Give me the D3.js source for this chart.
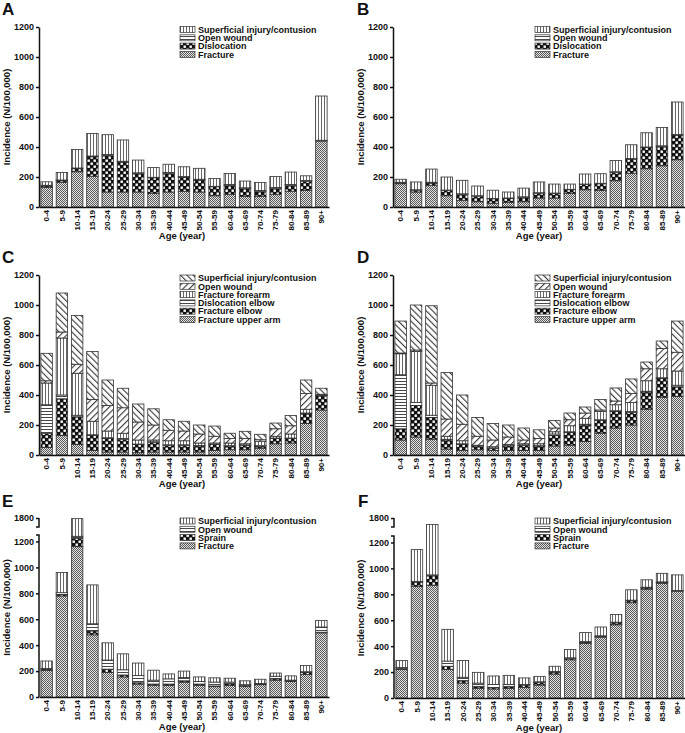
<!DOCTYPE html>
<html>
<head>
<meta charset="utf-8">
<script src="https://cdn.jsdelivr.net/npm/d3@7"></script>
<style>
  body { margin: 0; background: #fff; }
  text { font-family: "Liberation Sans", Arial, sans-serif; font-weight: bold; fill: #111; }
</style>
</head>
<body>
<div id="chart"></div>
<script>
// age groups on the x axis
var ages = ["0-4","5-9","10-14","15-19","20-24","25-29","30-34","35-39","40-44","45-49",
            "50-54","55-59","60-64","65-69","70-74","75-79","80-84","85-89","90+"];

// panel A
var fractureA    = [130,165,235,205,100,100,100,90,100,105,100,75,85,70,70,85,105,110,440];
var dislocationA = [10,10,20,130,245,200,125,105,125,93,80,60,60,55,35,40,40,62,3];
var openWoundA   = [5,5,5,5,5,5,3,3,5,5,5,3,5,3,5,5,5,5,2];
var superficialA = [23,50,123,150,132,142,85,65,55,65,73,52,73,45,53,73,83,31,295];

// panel B
var fractureB    = [155,100,145,75,45,35,25,30,35,60,60,90,115,110,175,225,255,275,315];
var dislocationB = [7,12,15,35,40,37,30,28,30,32,30,25,35,45,57,95,143,130,165];
var openWoundB   = [3,3,5,3,3,3,2,2,3,3,3,3,3,3,3,3,2,3,3];
var superficialB = [20,52,88,87,90,65,55,40,58,72,60,35,67,64,75,92,95,122,217];

// panel C
var upperArmC    = [50,130,70,30,20,20,15,20,20,20,20,30,35,35,45,75,80,210,300];
var elbowC       = [95,245,185,100,90,85,55,65,45,45,40,40,25,30,15,35,30,65,95];
var dislElbowC   = [190,25,10,5,5,5,3,3,3,3,3,2,2,2,2,3,3,5,3];
var forearmC     = [145,380,280,90,45,35,27,12,27,27,17,8,18,8,30,12,27,25,2];
var openWoundC   = [15,40,60,145,170,170,120,100,70,65,60,45,30,35,10,50,55,105,5];
var superficialC = [183,260,325,320,170,130,120,108,70,65,60,68,35,48,36,38,68,90,40];

// panel D
var upperArmD    = [100,120,105,40,30,35,30,30,30,30,60,65,90,145,180,200,305,385,390];
var elbowD       = [75,210,145,60,40,25,15,30,35,30,70,85,110,85,110,85,115,125,65];
var dislElbowD   = [360,20,15,5,5,2,2,2,2,2,10,5,5,5,5,5,5,5,10];
var forearmD     = [140,340,200,20,20,3,8,8,8,13,15,40,40,55,40,60,70,60,95];
var openWoundD   = [5,10,15,115,110,60,45,50,25,35,25,40,35,10,25,60,80,135,125];
var superficialD = [213,300,515,310,195,125,110,80,80,58,50,45,40,70,87,97,45,50,208];

// panel E
var fractureE    = [205,780,1160,480,190,155,100,90,90,115,90,80,90,80,95,130,120,175,495];
var sprainE      = [10,10,65,30,25,15,10,10,10,10,10,5,15,10,5,10,5,15,5];
var openWoundE   = [5,15,15,55,70,40,55,30,40,25,20,30,10,5,5,20,5,5,40];
var superficialE = [58,155,555,300,133,123,97,77,38,50,35,33,30,30,32,25,33,48,50];

// panel F
var fractureF    = [220,860,870,220,115,75,70,75,80,100,185,295,420,470,565,735,840,885,825];
var sprainF      = [10,35,75,25,20,15,10,15,20,20,15,10,10,5,15,15,10,8,2];
var openWoundF   = [5,5,5,40,25,25,25,15,5,5,5,5,5,5,5,5,5,3,3];
var superficialF = [55,245,800,245,130,83,65,70,50,42,40,65,70,68,60,80,57,66,120];

var ticksNormal = [0,200,400,600,800,1000,1200];
var ticksBroken = [0,200,400,600,800,1000,1200,1800];

var svg = d3.select("#chart").append("svg")
    .attr("width", 685)
    .attr("height", 733);

// fill patterns
var defs = svg.append("defs");
var p = defs.append("pattern").attr("id","fine").attr("patternUnits","userSpaceOnUse")
    .attr("width",2).attr("height",2);
p.append("rect").attr("width",2).attr("height",2).attr("fill","#e4e4e4");
p.append("rect").attr("width",1).attr("height",1).attr("fill","#5a5a5a");
p.append("rect").attr("x",1).attr("y",1).attr("width",1).attr("height",1).attr("fill","#5a5a5a");

p = defs.append("pattern").attr("id","check").attr("patternUnits","userSpaceOnUse")
    .attr("width",6).attr("height",6);
p.append("rect").attr("width",6).attr("height",6).attr("fill","#111");
p.append("rect").attr("x",0.5).attr("y",0.5).attr("width",2.4).attr("height",2.4).attr("fill","#fff");
p.append("rect").attr("x",3.5).attr("y",3.5).attr("width",2.4).attr("height",2.4).attr("fill","#fff");

p = defs.append("pattern").attr("id","horiz").attr("patternUnits","userSpaceOnUse")
    .attr("width",4).attr("height",3);
p.append("rect").attr("width",4).attr("height",3).attr("fill","#fff");
p.append("line").attr("x1",0).attr("x2",4).attr("y1",0.5).attr("y2",0.5)
    .attr("stroke","#333").attr("stroke-width",0.9);

p = defs.append("pattern").attr("id","vert").attr("patternUnits","userSpaceOnUse")
    .attr("width",3).attr("height",4);
p.append("rect").attr("width",3).attr("height",4).attr("fill","#fff");
p.append("line").attr("x1",0.5).attr("x2",0.5).attr("y1",0).attr("y2",4)
    .attr("stroke","#555").attr("stroke-width",0.9);

[["diagB",-45],["diagF",45]].forEach(function(d) {
    var q = defs.append("pattern").attr("id",d[0]).attr("patternUnits","userSpaceOnUse")
        .attr("width",4.5).attr("height",4.5)
        .attr("patternTransform","rotate(" + d[1] + ")");
    q.append("rect").attr("width",4.5).attr("height",4.5).attr("fill","#fff");
    q.append("line").attr("x1",0.6).attr("x2",0.6).attr("y1",0).attr("y2",4.5)
        .attr("stroke","#222").attr("stroke-width",1);
});

// panels: series listed bottom to top
var panels = [
  {letter:"A", lx:2, ly:15, left:39, right:329, y0:207, yTop:27, broken:false,
   legX:180, legY:29.5, titleX:182, titleY:239, yTitleX:10,
   series:[["Fracture",fractureA,"fine"],["Dislocation",dislocationA,"check"],
           ["Open wound",openWoundA,"horiz"],["Superficial injury/contusion",superficialA,"vert"]]},
  {letter:"B", lx:357, ly:15, left:393, right:685, y0:207, yTop:27, broken:false,
   legX:535, legY:29.5, titleX:539, titleY:239, yTitleX:364,
   series:[["Fracture",fractureB,"fine"],["Dislocation",dislocationB,"check"],
           ["Open wound",openWoundB,"horiz"],["Superficial injury/contusion",superficialB,"vert"]]},
  {letter:"C", lx:2, ly:263, left:39, right:329, y0:455, yTop:275, broken:false,
   legX:180, legY:278, titleX:182, titleY:487, yTitleX:10,
   series:[["Fracture upper arm",upperArmC,"fine"],["Fracture elbow",elbowC,"check"],
           ["Dislocation elbow",dislElbowC,"horiz"],["Fracture forearm",forearmC,"vert"],
           ["Open wound",openWoundC,"diagF"],["Superficial injury/contusion",superficialC,"diagB"]]},
  {letter:"D", lx:357, ly:263, left:393, right:685, y0:455, yTop:275, broken:false,
   legX:535, legY:278, titleX:539, titleY:487, yTitleX:364,
   series:[["Fracture upper arm",upperArmD,"fine"],["Fracture elbow",elbowD,"check"],
           ["Dislocation elbow",dislElbowD,"horiz"],["Fracture forearm",forearmD,"vert"],
           ["Open wound",openWoundD,"diagF"],["Superficial injury/contusion",superficialD,"diagB"]]},
  {letter:"E", lx:2, ly:507, left:39, right:329, y0:697, yTop:518, broken:true,
   legX:180, legY:521, titleX:182, titleY:730, yTitleX:10,
   series:[["Fracture",fractureE,"fine"],["Sprain",sprainE,"check"],
           ["Open wound",openWoundE,"horiz"],["Superficial injury/contusion",superficialE,"vert"]]},
  {letter:"F", lx:358, ly:507, left:394, right:685, y0:698, yTop:518, broken:true,
   legX:535, legY:521, titleX:539, titleY:731, yTitleX:364,
   series:[["Fracture",fractureF,"fine"],["Sprain",sprainF,"check"],
           ["Open wound",openWoundF,"horiz"],["Superficial injury/contusion",superficialF,"vert"]]}
];

panels.forEach(drawPanel);

function drawPanel(P) {
    var g = svg.append("g");

    var x = d3.scaleBand().domain(ages).range([P.left, P.right])
        .paddingInner(0.25).paddingOuter(0.125);

    var y;
    if (P.broken) {
        // broken axis: 0-1250 then 1730-1800
        y = d3.scaleLinear().domain([0,1250,1730,1800])
            .range([P.y0, P.y0 - 162, P.yTop + 9, P.yTop]);
    } else {
        y = d3.scaleLinear().domain([0,1200]).range([P.y0, P.yTop]);
    }

    var keys = P.series.map(function(s){ return s[0]; });
    var rows = ages.map(function(a, i) {
        var r = {age: a};
        P.series.forEach(function(s){ r[s[0]] = s[1][i]; });
        return r;
    });
    var stacked = d3.stack().keys(keys)(rows);

    g.selectAll("g.layer")
        .data(stacked)
        .enter().append("g")
        .attr("fill", function(d, i){ return "url(#" + P.series[i][2] + ")"; })
        .selectAll("rect")
        .data(function(d){ return d; })
        .enter().append("rect")
        .attr("x", function(d){ return x(d.data.age); })
        .attr("y", function(d){ return y(d[1]); })
        .attr("width", x.bandwidth())
        .attr("height", function(d){ return y(d[0]) - y(d[1]); })
        .attr("stroke", "#333")
        .attr("stroke-width", 0.8);

    // y axis
    var yAxis = d3.axisLeft(y)
        .tickValues(P.broken ? ticksBroken : ticksNormal)
        .tickSize(3).tickSizeOuter(0).tickPadding(2)
        .tickFormat(d3.format("d"));
    var ya = g.append("g").attr("transform","translate(" + P.left + ",0)").call(yAxis);
    ya.selectAll("text").style("font-size","9px");
    ya.selectAll("line").attr("stroke","#111").attr("stroke-width",1.5);
    ya.select(".domain").attr("stroke","#111").attr("stroke-width",1.5);
    if (P.broken) {
        ya.select(".domain").remove();
        var lo = y(1250), hiB = y(1730), hiT = y(1800);
        ya.append("path").attr("fill","none").attr("stroke","#111").attr("stroke-width",1.5)
            .attr("d", "M-3," + lo + "H0V" + P.y0);
        ya.append("path").attr("fill","none").attr("stroke","#111").attr("stroke-width",1.5)
            .attr("d", "M0," + hiT + "V" + hiB + "H-3");
    }

    // x axis
    var xa = g.append("g").attr("transform","translate(0," + P.y0 + ")")
        .call(d3.axisBottom(x).tickSize(0).tickSizeOuter(0));
    xa.select(".domain").attr("stroke","#111").attr("stroke-width",1.5);
    xa.selectAll("text")
        .attr("transform","rotate(-90)")
        .attr("x",-3).attr("y",0).attr("dy","0.35em")
        .attr("text-anchor","end")
        .style("font-size","8px");

    // titles
    g.append("text").attr("x", P.titleX).attr("y", P.titleY)
        .attr("text-anchor","middle").style("font-size","9.5px").text("Age (year)");
    g.append("text")
        .attr("transform","translate(" + P.yTitleX + "," + ((P.y0 + P.yTop) / 2) + ") rotate(-90)")
        .attr("text-anchor","middle").style("font-size","9.5px").text("Incidence (N/100,000)");
    g.append("text").attr("x", P.lx).attr("y", P.ly)
        .style("font-size","17px").text(P.letter);

    // legend, top series first
    var leg = P.series.slice().reverse();
    leg.forEach(function(s, i) {
        var cy = P.legY + i * 8.3;
        g.append("rect").attr("x", P.legX).attr("y", cy - 3)
            .attr("width", 15).attr("height", 6)
            .attr("fill", "url(#" + s[2] + ")")
            .attr("stroke","#333").attr("stroke-width",0.7);
        g.append("text").attr("x", P.legX + 18).attr("y", cy + 3.2)
            .style("font-size","9px").text(s[0]);
    });
}
</script>
</body>
</html>
